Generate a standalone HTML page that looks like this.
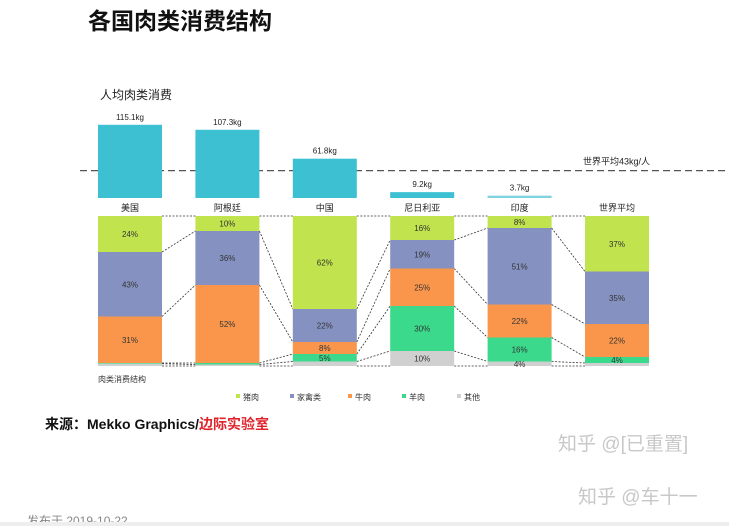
<!DOCTYPE html>
<html><head><meta charset="utf-8">
<style>
body{margin:0;background:#fff;width:729px;height:526px;overflow:hidden;font-family:"Liberation Sans","Noto Sans CJK SC",sans-serif;}
</style></head>
<body>
<svg id="chart" width="729" height="526" xmlns="http://www.w3.org/2000/svg" font-family="Liberation Sans, Noto Sans CJK SC, sans-serif">
<text x="88" y="29" font-size="23" font-weight="bold" fill="#111">各国肉类消费结构</text>
<text x="100" y="99" font-size="12" fill="#222">人均肉类消费</text>
<text x="98" y="382" font-size="8" fill="#333">肉类消费结构</text>
<g id="gtop"></g><g id="glinks"></g><g id="gstacks"></g><g id="glegend"></g>
<text x="45" y="429" font-size="14" font-weight="bold" fill="#111">来源：Mekko Graphics/<tspan fill="#e0242b">边际实验室</tspan></text>
<text x="558" y="450" font-size="19" fill="#c8c8c8">知乎 @[已重置]</text>
<text x="578" y="503" font-size="19" fill="#c8c8c8">知乎 @车十一</text>
<text x="27" y="525" font-size="12" fill="#888">发布于 2019-10-22</text>
<rect x="0" y="522" width="729" height="4" fill="#eee"/>
</svg>
<script>
const countries=["美国","阿根廷","中国","尼日利亚","印度","世界平均"];
const perCapita=[115.1,107.3,61.8,9.2,3.7,null];
const worldAvg=43;
const seriesNames=["猪肉","家禽类","牛肉","羊肉","其他"];
const pork=[24,10,62,16,8,37];
const poultry=[43,36,22,19,51,35];
const beef=[31,52,8,25,22,22];
const mutton=[0.5,1,5,30,16,4];
const other=[1.5,1,3,10,3,2];
const labels=[["24%","43%","31%","",""],["10%","36%","52%","",""],["62%","22%","8%","5%",""],["16%","19%","25%","30%","10%"],["8%","51%","22%","16%","4%"],["37%","35%","22%","4%",""]];
const colors=["#c1e34e","#8591c0","#f9964b","#3ad98c","#d0d0d0"];
const NS="http://www.w3.org/2000/svg";
const colX=i=>98+i*97.4, colW=64;
const kgBase=198, kgScale=0.636; const yKg=v=>kgBase-v*kgScale;
const stTop=216, stH=150; const yPct=p=>stTop+p/100*stH;
function mk(tag,attrs,parent){const e=document.createElementNS(NS,tag);for(const k in attrs)e.setAttribute(k,attrs[k]);parent.appendChild(e);return e;}
const gTop=document.getElementById('gtop'),gLinks=document.getElementById('glinks'),gStacks=document.getElementById('gstacks'),gLegend=document.getElementById('glegend');
let wl=mk('line',{x1:80,x2:729,y1:yKg(worldAvg),y2:yKg(worldAvg),stroke:'#555','stroke-width':1.3,'stroke-dasharray':'7,4'},gTop);


let wt=mk('text',{x:583,y:yKg(worldAvg)-6,'font-size':9,fill:'#222'},gTop);wt.textContent='世界平均'+worldAvg+'kg/人';


const series=[pork,poultry,beef,mutton,other];
const cum=countries.map((c,i)=>{let a=[0];let s=0;series.forEach(sr=>{s+=sr[i];a.push(s);});return a;});
countries.forEach((c,i)=>{
  const x=colX(i);
  if(perCapita[i]!=null){
    const h=Math.max(perCapita[i]*kgScale,1.5);
    let r=mk('rect',{x:x,y:kgBase-h,width:colW,height:h,fill:i==4?'#7fd3de':'#3cc0d2'},gTop);
    
    
    let t=mk('text',{x:x+colW/2,y:kgBase-h-5,'font-size':8,'text-anchor':'middle',fill:'#222'},gTop);t.textContent=perCapita[i]+'kg';
    
    
  }
  let n=mk('text',{x:x+colW/2,y:211,'font-size':9,'text-anchor':'middle',fill:'#222'},gTop);n.textContent=c;
  
  
  series.forEach((sr,k)=>{
    const y0=yPct(cum[i][k]),y1=yPct(cum[i][k+1]);
    let r=mk('rect',{x:x,y:y0,width:colW,height:Math.max(y1-y0,0),fill:colors[k]},gStacks);
    
    
    if(labels[i][k]){let t=mk('text',{x:x+colW/2,y:(y0+y1)/2+3,'font-size':8,'text-anchor':'middle',fill:'#333'},gStacks);t.textContent=labels[i][k];
      
      }
  });
  if(i<countries.length-1){
    for(let k=0;k<=5;k++){
      let l=mk('line',{x1:x+colW,y1:yPct(cum[i][k]),x2:colX(i+1),y2:yPct(cum[i+1][k]),stroke:'#333','stroke-width':0.8,'stroke-dasharray':'2,1.5'},gLinks);
      
      
    }
  }
});
const legX=[236,290,348,402,457];
seriesNames.forEach((s,k)=>{
  let r=mk('rect',{x:legX[k],y:394,width:4,height:4,fill:colors[k]},gLegend);
  
  
  let t=mk('text',{x:legX[k]+7,y:400,'font-size':8,fill:'#333'},gLegend);t.textContent=s;
  
  
});
</script>
</body></html>
